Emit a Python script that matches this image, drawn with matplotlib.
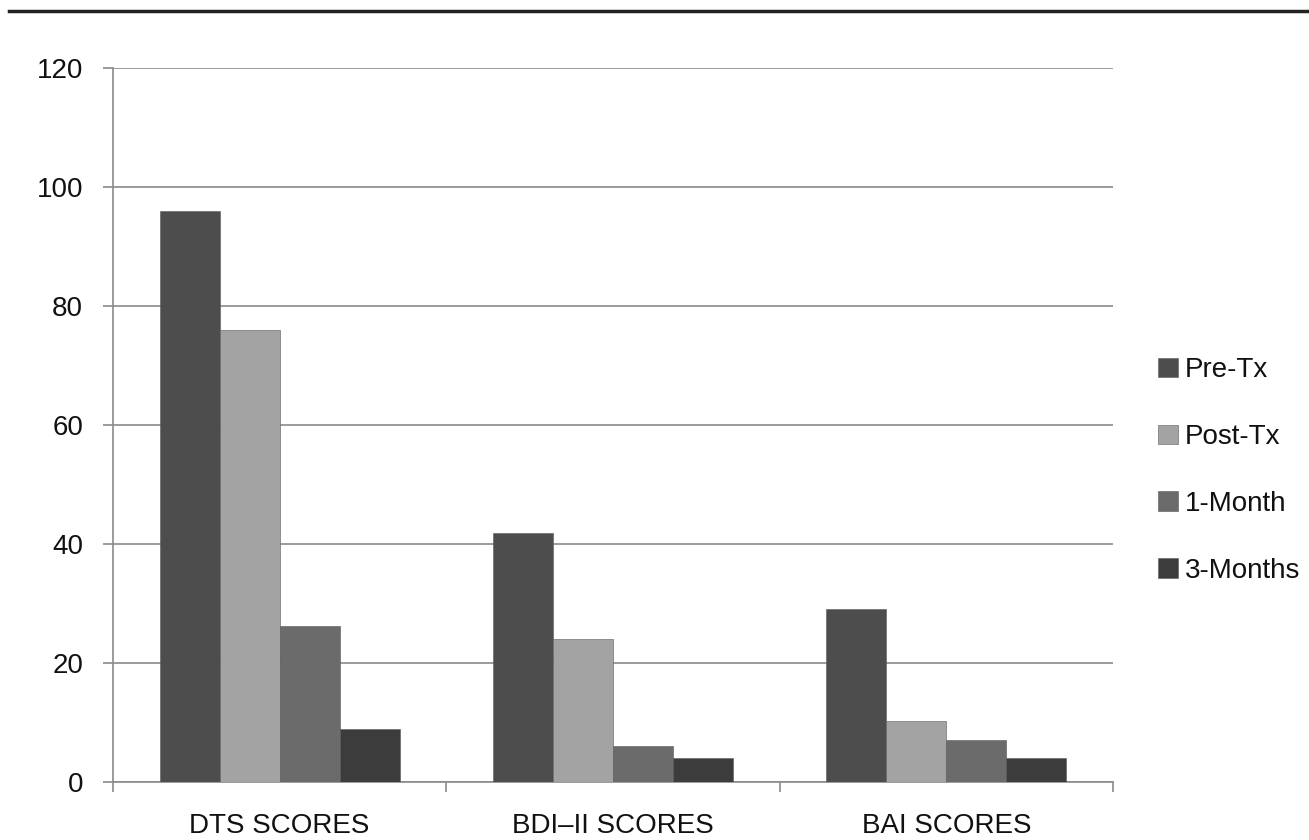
import matplotlib
matplotlib.use("Agg")
import matplotlib.pyplot as plt
from matplotlib.lines import Line2D
import numpy as np

categories = ["DTS SCORES", "BDI\u2013II SCORES", "BAI SCORES"]
series_names = ["Pre-Tx", "Post-Tx", "1-Month", "3-Months"]
pre_tx = [96, 41.8, 29]
post_tx = [76, 24.1, 10.2]
one_month = [26.2, 6.1, 7]
three_months = [8.9, 4.1, 4.1]
colors = ["#4d4d4d", "#a3a3a3", "#6b6b6b", "#3c3c3c"]
y_ticks = [0, 20, 40, 60, 80, 100, 120]

plt.rcParams['font.family'] = ['Liberation Sans', 'DejaVu Sans']

fig = plt.figure(figsize=(13.09, 8.4), dpi=100)
ax = fig.add_axes([0.0863, 0.069, 0.8640 - 0.0863 - 0.0137, 0.919 - 0.069])

grid_col = "#8a8a8a"
x = np.arange(len(categories))
width = 0.18
all_series = [pre_tx, post_tx, one_month, three_months]
for i, (vals, name, c) in enumerate(zip(all_series, series_names, colors)):
    ax.bar(x + (i - 1.5) * width, vals, width, color=c, label=name,
           edgecolor="#5a5a5a", linewidth=0.4, zorder=3)

ax.set_xlim(-0.5, 2.5)
ax.set_ylim(0, 120)
ax.set_yticks(y_ticks)
ax.set_yticklabels([str(v) for v in y_ticks])
ax.yaxis.grid(True, color=grid_col, linewidth=1.2, zorder=0)
ax.set_axisbelow(True)

ax.set_xticks(x)
ax.set_xticklabels(categories)
ax.set_xticks([-0.5, 0.5, 1.5, 2.5], minor=True)
ax.tick_params(axis='x', which='major', length=0, pad=22, labelsize=20, labelcolor="#111111")
ax.tick_params(axis='x', which='minor', length=7.5, width=1.2, color=grid_col, direction='out')
ax.tick_params(axis='y', which='major', length=7.5, width=1.2, color=grid_col, pad=14,
               labelsize=20, labelcolor="#111111", direction='out')

for s in ['top', 'right']:
    ax.spines[s].set_visible(False)
for s in ['left', 'bottom']:
    ax.spines[s].set_color(grid_col)
    ax.spines[s].set_linewidth(1.2)

leg = fig.legend(loc='center left', bbox_to_anchor=(0.885, 0.440), frameon=False,
                 fontsize=20, handlelength=0.7, handleheight=0.7, handletextpad=0.25,
                 labelspacing=1.47, borderpad=0, borderaxespad=0)
for t in leg.get_texts():
    t.set_color("#111111")

fig.add_artist(Line2D([0.007, 1.0], [0.9875, 0.9875], transform=fig.transFigure,
                      color="#222222", linewidth=2.5))

fig.savefig("out.png", dpi=100)
